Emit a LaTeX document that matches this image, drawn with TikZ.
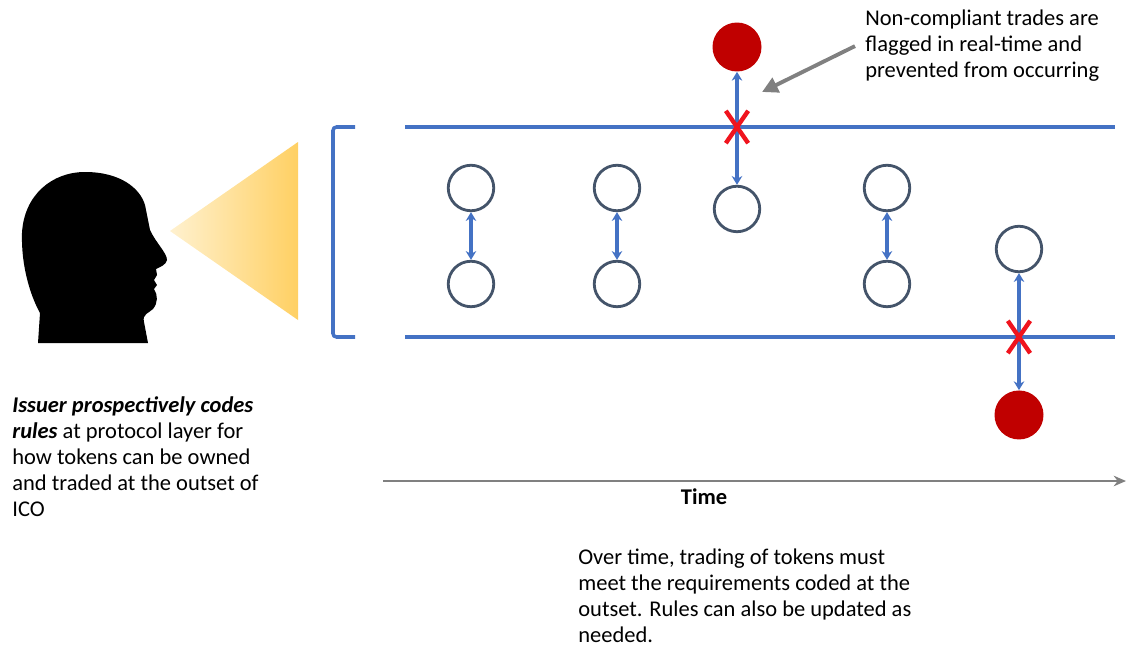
\documentclass[tikz,border=0pt]{standalone}
\usepackage{fontspec}
\setmainfont{Carlito}
\usetikzlibrary{arrows.meta, positioning, shapes.misc}
\definecolor{railblue}{HTML}{4472C4}
\definecolor{tokengray}{HTML}{44546A}
\definecolor{flagred}{HTML}{C00000}
\definecolor{crossred}{HTML}{F0141E}
\definecolor{axisgray}{HTML}{808080}
\definecolor{beamlight}{HTML}{FFF1CF}
\definecolor{beamdark}{HTML}{FFD063}

\begin{document}
\begin{tikzpicture}[
      x=0.02cm, y=-0.02cm, node distance=1.92cm, on grid, >={Stealth[round]},
      token/.style={circle, draw=tokengray, line width=1.6pt, minimum size=0.91cm, inner sep=0},
      flagged/.style={circle, fill=flagred, minimum size=0.98cm, inner sep=0},
      rail/.style={draw=railblue, line width=2pt},
      trade/.style={<->, draw=railblue, line width=1.8pt, >={Stealth[length=5pt, width=6pt]}},
      blocked/.style={cross out, draw=crossred, line width=2.5pt, minimum width=0.36cm, minimum height=0.56cm, inner sep=0},
      note/.style={font=\fontsize{12.8}{14.8}\selectfont, align=left, inner sep=0, anchor=north west},
      ]
      \useasboundingbox (0,0) rectangle (1127,649);

      % issuer and the rules beam
      \fill (38,343) -- (40,313) .. controls (30,295) and (21,265) .. (22,233)
        .. controls (24,195) and (52,172) .. (85,172) .. controls (120,172) and (140,188) .. (145,205)
        -- (150,230) .. controls (156,243) and (167,253) .. (167,260) .. controls (166,265) and (160,267) .. (156,269)
        -- (157,275) -- (154,280) -- (157,285) -- (154,289) .. controls (158,295) and (158,303) .. (153,309)
        .. controls (149,313) and (142,314) .. (144,322) -- (148,343) -- cycle;
      \shade[left color=beamlight, right color=beamdark] (170,231) -- (298,142) -- (298,320) -- cycle;
      \draw[rail, rounded corners=2pt] (355,127) -- (333,127) -- (333,337) -- (355,337);

      % rails
      \coordinate (topL) at (405,127);
      \coordinate (topR) at (1115,127);
      \coordinate (botL) at (405,337);
      \coordinate (botR) at (1115,337);
      \draw[rail] (topL) -- (topR);
      \draw[rail] (botL) -- (botR);

      % trades
      \node[token]                  (t_1) at (471,188) {};
      \node[token]                  (b_1) [below=of t_1] {};
      \node[token]                  (t_2) at (617,188) {};
      \node[token]                  (b_2) [below=of t_2] {};
      \node[flagged]                (t_3) at (737,47) {};
      \node[token]                  (b_3) [below=3.24cm of t_3] {};
      \node[token]                  (t_4) at (887,188) {};
      \node[token]                  (b_4) [below=of t_4] {};
      \node[token]                  (t_5) at (1019,249) {};
      \node[flagged]                (b_5) [below=3.32cm of t_5] {};
      \foreach \i in {1,...,5}
        \draw[trade] (t_\i) -- (b_\i);
      \node[blocked] (x_3) at (737,127) {};
      \node[blocked] (x_5) at (1019,337) {};

      % time
      \coordinate (axisL) at (383,481);
      \coordinate (axisR) at (1126,481);
      \draw[draw=axisgray, line width=1.6pt, -{Stealth[length=7pt, width=6pt]}] (axisL) -- (axisR);
      \node[font=\fontsize{12.8}{14.8}\selectfont\bfseries] (time) at (704,497) {Time};

      % notes
      \node[note] (flagnote) at (865,10) {Non-compliant trades are\\flagged in real-time and\\prevented from occurring};
      \coordinate (flagtip) at (762,92);
      \draw[draw=axisgray, line width=2.2pt, -{Triangle[length=9pt, width=9pt]}] ([xshift=-0.2cm]flagnote.west) -- (flagtip);
      \node[note] (issuernote) at (12,396) {\textbf{\textit{Issuer prospectively codes}}\\\textbf{\textit{rules}} at protocol layer for\\how tokens can be owned\\and traded at the outset of\\ICO};
      \node[note] (timenote) at (578,549) {Over time, trading of tokens must\\meet the requirements coded at the\\outset. Rules can also be updated as\\needed.};
    \end{tikzpicture}
\end{document}
